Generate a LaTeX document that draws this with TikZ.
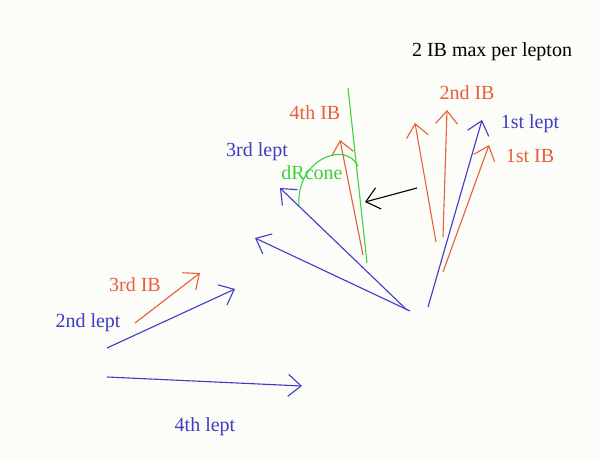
\documentclass[tikz,border=0pt]{standalone}
\usepackage{fontspec}
\setmainfont{Liberation Serif}
\usetikzlibrary{arrows.meta}
\definecolor{bg}{RGB}{252,252,248}
\definecolor{lblue}{RGB}{60,60,200}
\definecolor{lorange}{RGB}{232,95,60}
\definecolor{lgreen}{RGB}{60,210,60}
\tikzset{
  vec/.style={line width=1.1pt,-{Straight Barb[length=13pt,width=22pt,line width=1.1pt]}},
  lab/.style={font=\fontsize{20}{24}\selectfont, inner sep=0pt},
}
\begin{document}
\begin{tikzpicture}[x=1pt,y=-1pt]
\fill[bg] (0,0) rectangle (600,462);
\useasboundingbox (0,0) rectangle (600,462);
% coordinates
\coordinate (o3) at (407,310);
\coordinate (t3) at (280,188);
\coordinate (ox) at (410,311);
\coordinate (tx) at (255,238);
\coordinate (o1) at (428,307);
\coordinate (t1) at (482,120);
\coordinate (ib1o) at (443,272);
\coordinate (ib1t) at (489,145);
\coordinate (ib2ao) at (436,242);
\coordinate (ib2at) at (415,123);
\coordinate (ib2bo) at (443,237);
\coordinate (ib2bt) at (447,110);
\coordinate (ib4o) at (363,255);
\coordinate (ib4t) at (340,140);
\coordinate (g1) at (348,88);
\coordinate (g2) at (367,263);
\coordinate (ko) at (417,188);
\coordinate (kt) at (365,202);
\coordinate (o2) at (107,348);
\coordinate (t2) at (235,289);
\coordinate (ib3o) at (135,323);
\coordinate (ib3t) at (200,273);
\coordinate (o4) at (107,377);
\coordinate (t4) at (302,386);
% vectors
\draw[vec,lblue] (o3) -- (t3);
\draw[vec,lblue] (ox) -- (tx);
\draw[vec,lblue] (o1) -- (t1);
\draw[vec,lorange] (ib1o) -- (ib1t);
\draw[vec,lorange] (ib2ao) -- (ib2at);
\draw[vec,lorange] (ib2bo) -- (ib2bt);
\draw[vec,lorange] (ib4o) -- (ib4t);
\draw[lgreen,line width=1.1pt] (g1) -- (g2);
\coordinate (a1) at (299,205);
\coordinate (a2) at (358,166);
\draw[lgreen,line width=1.1pt] (a1) .. controls (296,160) and (345,140) .. (a2);
\draw[vec,black] (ko) -- (kt);
\draw[vec,lblue] (o2) -- (t2);
\draw[vec,lorange] (ib3o) -- (ib3t);
\draw[vec,lblue] (o4) -- (t4);
% labels
\node[lab,black] (title) at (492,52) {2 IB max per lepton};
\node[lab,lorange] (l4ib) at (315,113) {4th IB};
\node[lab,lorange] (l2ib) at (467,93) {2nd IB};
\node[lab,lblue] (l1l) at (530,124) {1st lept};
\node[lab,lorange] (l1ib) at (530,156) {1st IB};
\node[lab,lblue] (l3l) at (257,152) {3rd lept};
\node[lab,lgreen] (ldr) at (312,173) {dRcone};
\node[lab,lorange] (l3ib) at (135,285) {3rd IB};
\node[lab,lblue] (l2l) at (88,323) {2nd lept};
\node[lab,lblue] (l4l) at (205,427) {4th lept};
\end{tikzpicture}
\end{document}
